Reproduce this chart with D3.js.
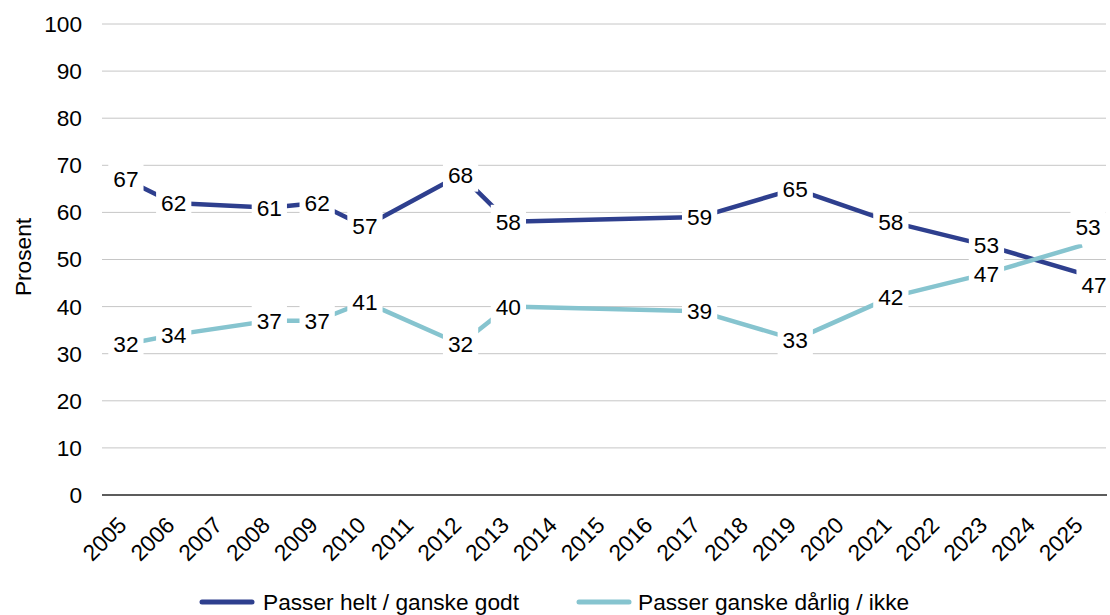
<!DOCTYPE html>
<html>
  <head>
    <meta charset="utf-8">
    <title>Passer helt / ganske godt</title>
    <style>
      body { margin: 0; background: #fff; }
      svg text { font-family: "Liberation Sans", Arial, sans-serif; fill: #000; font-size: 22.7px; }
      .grid line { stroke: #c6c6c6; stroke-width: 1; }
    </style>
    <script src="https://d3js.org/d3.v7.min.js"></script>
  </head>
  <body>
    <svg class="chart"></svg>
    <script>
var years = d3.range(2005, 2026);
var surveyYears = [2005, 2006, 2008, 2009, 2010, 2012, 2013, 2017, 2019, 2021, 2023, 2025];
var godt = [67, 62, 61, 62, 57, 68, 58, 59, 65, 58, 53, 47];
var darlig = [32, 34, 37, 37, 41, 32, 40, 39, 33, 42, 47, 53];
var yTicks = [0, 10, 20, 30, 40, 50, 60, 70, 80, 90, 100];
var seriesNames = ["Passer helt / ganske godt", "Passer ganske dårlig / ikke"];
var colors = ["#2e3f8e", "#86c4cf"];

var width = 1110,
    height = 615;

var x = d3.scaleBand()
    .domain(years)
    .range([102, 1106]);

var y = d3.scaleLinear()
    .domain([0, 100])
    .range([495, 24]);

function cx(yr) { return x(yr) + x.bandwidth() / 2; }

var chart = d3.select(".chart")
    .attr("width", width)
    .attr("height", height);

// gridlines
chart.append("g").attr("class", "grid")
  .selectAll("line")
    .data(yTicks.filter(function(d) { return d > 0; }))
  .enter().append("line")
    .attr("x1", 102).attr("x2", 1106)
    .attr("y1", function(d) { return y(d); })
    .attr("y2", function(d) { return y(d); });

// y axis tick labels
chart.append("g")
  .selectAll("text")
    .data(yTicks)
  .enter().append("text")
    .attr("x", 82)
    .attr("y", function(d) { return y(d); })
    .attr("dy", "0.35em")
    .attr("text-anchor", "end")
    .text(function(d) { return d; });

chart.append("text")
    .attr("transform", "translate(31,257) rotate(-90)")
    .attr("text-anchor", "middle")
    .text("Prosent");

// x axis
chart.append("line")
    .attr("x1", 102).attr("x2", 1107)
    .attr("y1", y(0)).attr("y2", y(0))
    .attr("stroke", "#262626")
    .attr("stroke-width", 1.3);

chart.append("g")
  .selectAll("text")
    .data(years)
  .enter().append("text")
    .attr("transform", function(d) { return "translate(" + (cx(d) - 3.5) + ",521) rotate(-45)"; })
    .attr("text-anchor", "end")
    .attr("dy", "0.35em")
    .text(function(d) { return d; });

var series = [godt, darlig].map(function(vals, i) {
  return {
    name: seriesNames[i],
    color: colors[i],
    points: vals.map(function(v, j) { return { year: surveyYears[j], value: v }; })
  };
});

var line = d3.line()
    .x(function(d) { return cx(d.year); })
    .y(function(d) { return y(d.value); });

chart.append("g")
  .selectAll("path")
    .data(series)
  .enter().append("path")
    .attr("d", function(d) { return line(d.points); })
    .attr("fill", "none")
    .attr("stroke", function(d) { return d.color; })
    .attr("stroke-width", 4.5)
    .attr("stroke-linejoin", "round");

// data labels with white boxes
var labelG = chart.append("g");
series.forEach(function(s, si) {
  s.points.forEach(function(p, pi) {
    var lx = cx(p.year), ly = y(p.value);
    if (pi === s.points.length - 1) {
      // last point: labels pushed apart where the lines cross
      if (si === 0) { lx += 12; ly += 11; } else { lx += 6; ly -= 18; }
    }
    var g = labelG.append("g");
    var rect = g.append("rect").attr("fill", "#fff");
    var t = g.append("text")
        .attr("x", lx)
        .attr("y", ly)
        .attr("dy", "0.35em")
        .attr("text-anchor", "middle")
        .text(p.value);
    var b = t.node().getBBox();
    rect.attr("x", b.x - 5).attr("y", b.y - 4)
        .attr("width", b.width + 10).attr("height", b.height + 8);
  });
});

// legend
var legend = chart.append("g")
  .selectAll("g")
    .data(series)
  .enter().append("g")
    .attr("transform", function(d, i) { return "translate(" + [200, 577][i] + ",602)"; });

legend.append("line")
    .attr("x1", 2).attr("x2", 52)
    .attr("stroke", function(d) { return d.color; })
    .attr("stroke-width", 5)
    .attr("stroke-linecap", "round");

legend.append("text")
    .attr("x", function(d, i) { return [63, 61][i]; })
    .attr("dy", "0.35em")
    .text(function(d) { return d.name; });
    </script>
  </body>
</html>
